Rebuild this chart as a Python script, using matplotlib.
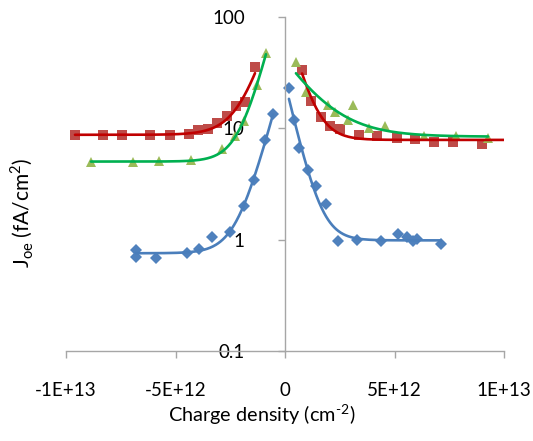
import numpy as np
import matplotlib
matplotlib.use("Agg")
import matplotlib.pyplot as plt

plt.rcParams['font.family'] = ['Lato', 'DejaVu Sans']
plt.rcParams['mathtext.fontset'] = 'custom'
plt.rcParams['mathtext.rm'] = 'Lato'

# Data (charge density in cm^-2, Joe in fA/cm^2)
blue_neg_x = [-6.80e12, -6.80e12, -5.89e12, -4.47e12, -3.93e12, -3.33e12,
              -2.51e12, -1.87e12, -1.42e12, -0.91e12, -0.55e12]
blue_neg_y = [0.80, 0.70, 0.69, 0.76, 0.83, 1.06, 1.18, 2.02, 3.40, 7.8, 13.4]

blue_pos_x = [0.18e12, 0.41e12, 0.64e12, 1.05e12, 1.42e12, 1.87e12, 2.42e12,
              3.29e12, 4.38e12, 5.16e12, 5.57e12, 5.84e12, 6.03e12, 7.12e12]
blue_pos_y = [22.9, 11.8, 6.6, 4.19, 3.06, 2.11, 0.98, 1.0, 0.98, 1.13, 1.06,
              0.98, 1.02, 0.92]

red_neg_x = [-9.59e12, -8.31e12, -7.44e12, -6.16e12, -5.25e12, -4.38e12,
             -3.97e12, -3.52e12, -3.11e12, -2.65e12, -2.24e12, -1.83e12, -1.37e12]
red_neg_y = [8.65, 8.65, 8.65, 8.65, 8.65, 8.83, 9.6, 9.8, 11.1, 12.8, 15.8,
             17.1, 35.5]

red_pos_x = [0.78e12, 1.19e12, 1.64e12, 2.05e12, 2.51e12, 3.38e12, 4.20e12,
             5.11e12, 5.94e12, 6.80e12, 7.67e12, 9.00e12]
red_pos_y = [33.3, 17.5, 12.6, 10.6, 9.8, 8.65, 8.47, 8.13, 7.96, 7.48, 7.48,
             7.18]

green_neg_x = [-8.86e12, -6.94e12, -5.75e12, -4.29e12, -2.88e12, -2.28e12,
               -1.87e12, -1.28e12, -0.87e12]
green_neg_y = [4.94, 4.94, 5.05, 5.15, 6.47, 8.47, 11.6, 24.4, 47.4]

green_pos_x = [0.50e12, 0.96e12, 1.96e12, 2.28e12, 2.88e12, 3.11e12, 3.84e12,
               4.57e12, 6.35e12, 7.81e12, 9.27e12]
green_pos_y = [39.4, 21.1, 16.1, 13.9, 11.8, 16.1, 10.0, 10.4, 8.47, 8.47,
               8.13]

x_ticks = [-1e13, -5e12, 0, 5e12, 1e13]
x_labels = ['-1E+13', '-5E+12', '0', '5E+12', '1E+13']
y_ticks = [0.1, 1, 10, 100]
y_labels = ['0.1', '1', '10', '100']


def fit_curve(x, y):
    """Least squares fit of y = A + B*exp(-|x|/L), relative error."""
    x = np.abs(np.asarray(x))
    y = np.asarray(y)
    best = None
    for L in np.linspace(0.1e12, 5e12, 800):
        e = np.exp(-x / L)
        m = np.column_stack([np.ones_like(e), e]) / y[:, None]
        coef, *_ = np.linalg.lstsq(m, np.ones_like(y), rcond=None)
        res = np.sum((m @ coef - 1) ** 2)
        if best is None or res < best[0]:
            best = (res, coef[0], coef[1], L)
    return best[1:]


def draw(ax, xs, ys, mcolor, lcolor, marker, msize, x_end=None):
    ax.plot(xs, ys, linestyle='none', marker=marker, markersize=msize,
            color=mcolor, markeredgewidth=0, zorder=2)
    a, b, L = fit_curve(xs, ys)
    lo, hi = min(xs), max(xs)
    if x_end is not None:
        hi = x_end
    xx = np.linspace(lo, hi, 300)
    ax.plot(xx, a + b * np.exp(-np.abs(xx) / L), color=lcolor, lw=1.9,
            zorder=3, solid_capstyle='round')


fig = plt.figure(figsize=(5.33, 4.41), dpi=100)
ax = fig.add_axes([66 / 533, 1 - 351 / 441, 438 / 533, 334 / 441])

blue_m, blue_l = '#4F81BD', '#4A7EBB'
red_m, red_l = '#BE4B48', '#C00000'
green_m, green_l = '#9BBB59', '#00B050'

draw(ax, blue_neg_x, blue_neg_y, blue_m, blue_l, 'D', 6)
draw(ax, blue_pos_x, blue_pos_y, blue_m, blue_l, 'D', 6)
draw(ax, red_neg_x, red_neg_y, red_m, red_l, 's', 7)
draw(ax, red_pos_x, red_pos_y, red_m, red_l, 's', 7, x_end=1.01e13)
draw(ax, green_neg_x, green_neg_y, green_m, green_l, '^', 7)
draw(ax, green_pos_x, green_pos_y, green_m, green_l, '^', 7)

ax.set_yscale('log')
ax.set_xlim(-1e13, 1e13)
ax.set_ylim(0.1, 100)
ax.set_xticks(x_ticks)
ax.set_xticklabels(x_labels)
ax.set_yticks(y_ticks)
ax.set_yticklabels(y_labels)
ax.yaxis.set_minor_locator(matplotlib.ticker.NullLocator())

for s in ['top', 'right']:
    ax.spines[s].set_visible(False)
ax.spines['left'].set_position(('data', 0))
for s in ['left', 'bottom']:
    ax.spines[s].set_color('#A6A6A6')
    ax.spines[s].set_linewidth(1.0)
ax.patch.set_visible(False)

ax.tick_params(axis='x', direction='out', length=5, width=1.0, color='#A6A6A6',
               pad=17, labelsize=13.5, labelcolor='black')
ax.tick_params(axis='y', direction='out', length=5, width=1.0, color='#A6A6A6',
               pad=24, labelsize=13.5, labelcolor='black')

fig.text(262 / 533, 1 - 415 / 441, 'Charge density (cm$^{\\text{-2}}$)',
         ha='center', va='center', fontsize=14.3)
fig.text(22 / 533, 1 - 213 / 441, 'J$_{\\text{oe}}$ (fA/cm$^{\\text{2}}$)',
         ha='center', va='center', rotation=90, fontsize=15)

fig.savefig('out.png', dpi=100)
